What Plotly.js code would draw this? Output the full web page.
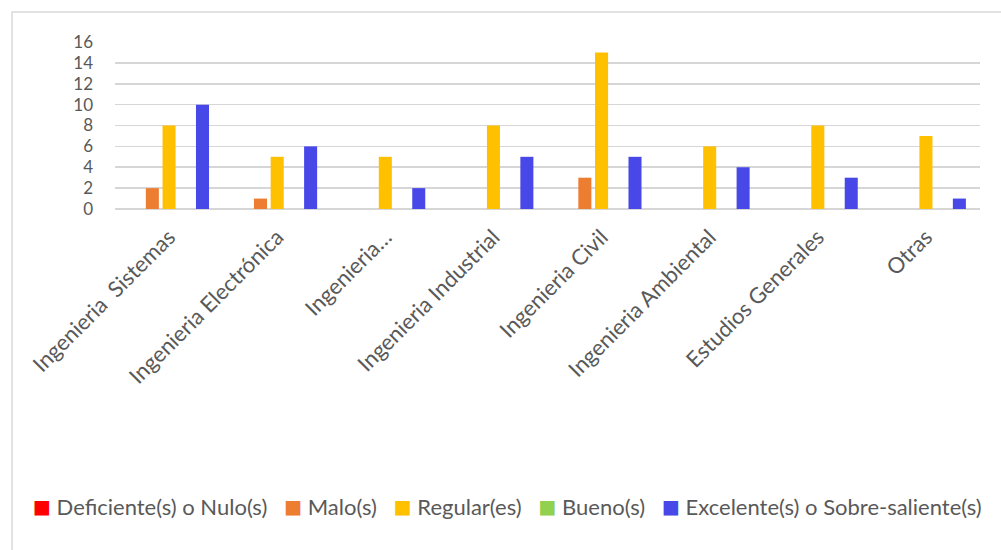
<!DOCTYPE html>
<html>
<head>
<meta charset="utf-8">
<script src="https://cdn.plot.ly/plotly-3.0.1.min.js"></script>
<style>
  html, body { margin: 0; padding: 0; background: #ffffff; }
  #chart { width: 1001px; height: 550px; }
</style>
</head>
<body>
<div id="chart"></div>
<script>
// Carreras evaluadas
const carreras = [
  'Ingenieria  Sistemas',
  'Ingenieria Electrónica',
  'Ingenieria…',
  'Ingenieria Industrial',
  'Ingenieria Civil',
  'Ingenieria Ambiental',
  'Estudios Generales',
  'Otras'
];

// Número de respuestas por nivel de valoración
const deficiente = [0, 0, 0, 0, 0, 0, 0, 0];
const malo       = [2, 1, 0, 0, 3, 0, 0, 0];
const regular    = [8, 5, 5, 8, 15, 6, 8, 7];
const bueno      = [0, 0, 0, 0, 0, 0, 0, 0];
const excelente  = [10, 6, 2, 5, 5, 4, 3, 1];

const niveles = ['Deficiente(s) o Nulo(s)', 'Malo(s)', 'Regular(es)', 'Bueno(s)', 'Excelente(s) o Sobre-saliente(s)'];
const colores = ['#ff0000', '#ed7d31', '#ffc000', '#92d050', '#4848e8'];
const series  = [deficiente, malo, regular, bueno, excelente];

const traces = series.map((vals, i) => ({
  type: 'bar',
  name: niveles[i],
  x: carreras,
  y: vals,
  marker: { color: colores[i], line: { width: 0 } },
  showlegend: false
}));

const textColor = '#595959';
const fontFam = 'Lato, "Open Sans", sans-serif';

// Leyenda en una sola línea: cuadro de color pegado a su texto
const sep = '\u00A0\u00A0\u00A0';
const leyenda = niveles.map((n, i) =>
  '<span style="color:' + colores[i] + ';font-size:19px;font-family:DejaVu Sans;baseline-shift:2px">\u25A0</span>\u00A0' + n
).join(sep);

const layout = {
  width: 1001,
  height: 550,
  margin: { l: 115, r: 21, t: 42, b: 341 },
  paper_bgcolor: '#ffffff',
  plot_bgcolor: '#ffffff',
  barmode: 'group',
  bargap: 0.227,
  bargroupgap: 0.22,
  font: { family: fontFam, color: textColor, size: 20 },
  xaxis: {
    type: 'category',
    tickangle: -45,
    tickfont: { family: fontFam, size: 22, color: textColor },
    ticklabelstandoff: 10,
    showgrid: false,
    showline: false,
    zeroline: false,
    ticks: '',
    automargin: false
  },
  yaxis: {
    range: [0, 16],
    dtick: 2,
    tick0: 0,
    showgrid: true,
    gridcolor: '#d6d6d6',
    gridwidth: 1.6,
    zeroline: true,
    zerolinecolor: '#d6d6d6',
    zerolinewidth: 1.6,
    showline: false,
    ticks: '',
    ticklabelstandoff: 21,
    tickfont: { family: fontFam, size: 17, color: textColor },
    automargin: false
  },
  showlegend: false,
  annotations: [{
    xref: 'paper', yref: 'paper',
    x: 0.454, y: -1.784,
    xanchor: 'center', yanchor: 'middle',
    showarrow: false,
    text: leyenda,
    font: { family: fontFam, size: 22, color: textColor }
  }],
  shapes: [{
    type: 'rect',
    xref: 'paper', yref: 'paper',
    x0: -0.119, x1: 1.3,
    y0: -3, y1: 1.18,
    line: { color: '#d9d9d9', width: 1.5 },
    fillcolor: 'rgba(0,0,0,0)',
    layer: 'below'
  }]
};

Plotly.newPlot('chart', traces, layout, { displayModeBar: false, staticPlot: true });
</script>
</body>
</html>
